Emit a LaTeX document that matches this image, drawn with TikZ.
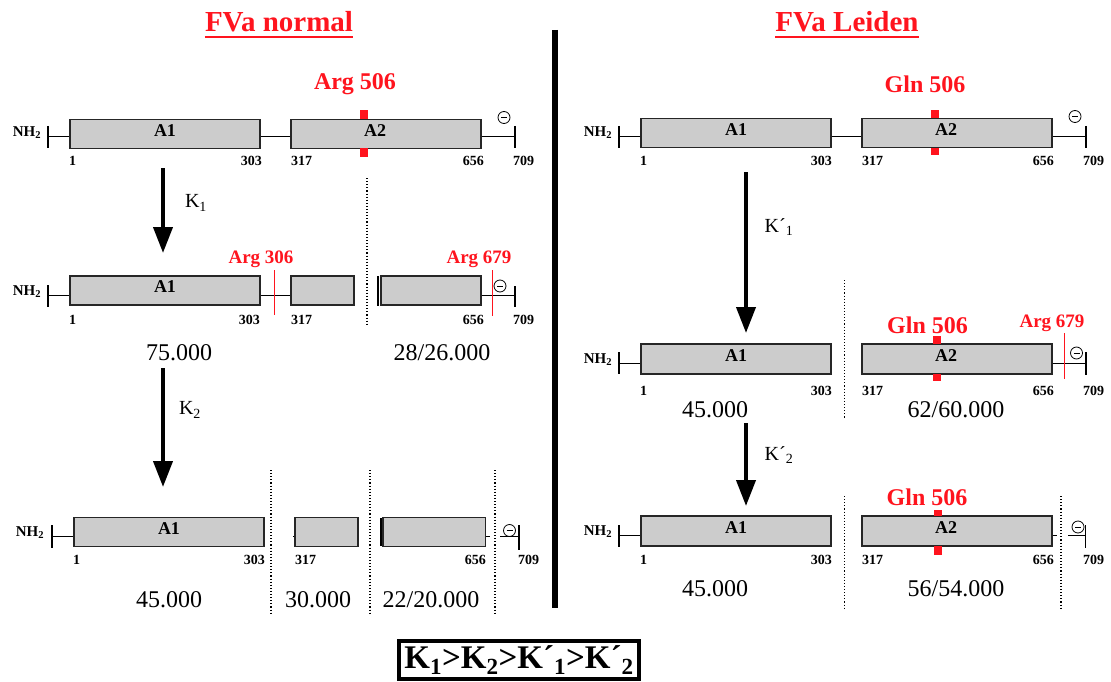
\documentclass[tikz,border=0pt]{standalone}
\usepackage{fontspec}
\setmainfont{Liberation Serif}
\usetikzlibrary{arrows.meta}
\definecolor{fred}{RGB}{255,20,30}
\begin{document}
\begin{tikzpicture}[x=1pt,y=-1pt,
  dom/.style={draw=black!85,fill=black!20,line width=1.3pt,minimum height=29pt,inner sep=0pt},
  chain/.style={line width=1pt},
  tick/.style={line width=1.2pt},
  num/.style={font=\bfseries\fontsize{14}{14}\selectfont,inner sep=0pt},
  dlbl/.style={font=\bfseries\fontsize{18}{18}\selectfont,inner sep=0pt},
  nh/.style={font=\bfseries\fontsize{15}{15}\selectfont,inner sep=0pt},
  mass/.style={font=\fontsize{24}{24}\selectfont,inner sep=0pt},
  site/.style={text=fred,font=\bfseries\fontsize{24}{24}\selectfont,inner sep=0pt},
  cut/.style={text=fred,font=\bfseries\fontsize{19}{19}\selectfont,inner sep=0pt},
  cutline/.style={draw=fred,line width=1pt},
  resbar/.style={fill=fred},
  neg/.style={circle,draw,line width=0.8pt,minimum size=12pt,inner sep=0pt,
    path picture={\draw[line width=0.8pt]
      ([xshift=-3pt]path picture bounding box.center) --
      ([xshift=3pt]path picture bounding box.center);}},
  sep/.style={dotted,line width=1.1pt},
  rate/.style={line width=4pt,-{Triangle[length=26pt,width=19pt]}},
  klbl/.style={font=\fontsize{20}{20}\selectfont,inner sep=0pt},
  title/.style={text=fred,font=\bfseries\fontsize{29}{29}\selectfont,inner sep=0pt},
]
\useasboundingbox (0,0) rectangle (1111,682);

% ---------- titles and divider ----------
\node[title] (tN) at (279,22) {FVa normal};
\draw[fred,line width=2pt] (tN.west |- 0,37) -- (tN.east |- 0,37);
\node[title] (tL) at (847,22) {FVa Leiden};
\draw[fred,line width=2pt] (tL.west |- 0,37) -- (tL.east |- 0,37);
\draw[line width=6pt] (555,30) -- (555,608);

% ================= FVa normal =================
% row 1: intact cofactor
\node[nh] (L1nh) at (27,133) {NH\textsubscript{2}};
\node[dom,minimum width=190pt,minimum height=29.5pt] (L1a1) at (165,134) {};
\node[dom,minimum width=190pt,minimum height=29.5pt] (L1a2) at (386,134) {};
\node[dlbl] (L1t1) at (165,131) {A1};
\node[dlbl] (L1t2) at (375,131) {A2};
\coordinate (L1s) at (48,137);
\coordinate (L1e) at (515,137);
\draw[tick] (48,126) -- (48,148);
\draw[tick] (515,126) -- (515,148);
\draw[chain] (L1s) -- (L1s -| L1a1.west);
\draw[chain] (L1s -| L1a1.east) -- (L1s -| L1a2.west);
\draw[chain] (L1s -| L1a2.east) -- (L1e);
\fill[resbar] (360,110) rectangle (368,119);
\fill[resbar] (360,148.5) rectangle (368,157);
\node[site] (L1site) at (355,84) {Arg 506};
\node[neg] (L1neg) at (504,117.5) {};
\node[num] (L1n1) at (72.5,161) {1};
\node[num,anchor=east] (L1n2) at (262,161) {303};
\node[num,anchor=west] (L1n3) at (291,161) {317};
\node[num,anchor=east] (L1n4) at (484,161) {656};
\node[num,anchor=west] (L1n5) at (513,161) {709};

% K1 step
\coordinate (k1a) at (163,168);
\coordinate (k1b) at (163,253);
\draw[rate] (k1a) -- (k1b);
\node[klbl] (k1) at (196,203) {K\textsubscript{1}};

% row 2: after cleavage at Arg 306 and Arg 679
\node[nh] (L2nh) at (27,292) {NH\textsubscript{2}};
\node[dom,minimum width=190pt] (L2a1) at (165,290.5) {};
\node[dom,minimum width=63pt] (L2b) at (322.5,290.5) {};
\node[dom,minimum width=100pt] (L2c) at (431,290.5) {};
\node[dlbl] (L2t1) at (165,287) {A1};
\coordinate (L2s) at (48,295);
\coordinate (L2e) at (515,295);
\draw[tick] (48,285) -- (48,307);
\draw[tick] (515,286) -- (515,307);
\draw[tick] (378,276) -- (378,306);
\draw[chain] (L2s) -- (L2s -| L2a1.west);
\draw[chain] (L2s -| L2a1.east) -- (L2s -| L2b.west);
\draw[chain] (L2s -| L2c.east) -- (L2e);
\draw[cutline] (274,270) -- (274,315);
\node[cut] (L2cut1) at (261,259) {Arg 306};
\draw[cutline] (492,270) -- (492,316);
\node[cut] (L2cut2) at (479,259) {Arg 679};
\node[neg] (L2neg) at (500,286) {};
\draw[sep] (367,178) -- (367,325);
\node[num] (L2n1) at (72.5,320) {1};
\node[num,anchor=east] (L2n2) at (260,320) {303};
\node[num,anchor=west] (L2n3) at (291,320) {317};
\node[num,anchor=east] (L2n4) at (484,320) {656};
\node[num,anchor=west] (L2n5) at (513,320) {709};
\node[mass] (L2m1) at (179,353) {75.000};
\node[mass] (L2m2) at (442,353) {28/26.000};

% K2 step
\coordinate (k2a) at (163,368);
\coordinate (k2b) at (163,487);
\draw[rate] (k2a) -- (k2b);
\node[klbl] (k2) at (190,410) {K\textsubscript{2}};

% row 3: fully cleaved
\node[nh] (L3nh) at (30,533) {NH\textsubscript{2}};
\node[dom,minimum width=190pt,minimum height=28.5pt] (L3a1) at (169,532) {};
\node[dom,minimum width=63pt,minimum height=28.5pt] (L3b) at (326.5,532) {};
\node[dom,minimum width=102.5pt,minimum height=28.5pt] (L3c) at (434.25,532) {};
\node[dlbl] (L3t1) at (169,529) {A1};
\coordinate (L3s) at (52,536);
\coordinate (L3e) at (519,536);
\draw[tick] (52,525) -- (52,548);
\draw[tick] (519,525) -- (519,550);
\draw[tick] (381,518) -- (381,546);
\draw[chain] (L3s) -- (L3s -| L3a1.west);
\draw[chain] (293,536) -- (L3s -| L3b.west);
\draw[chain] (L3s -| L3c.east) -- (490,536);
\draw[chain] (500,536) -- (L3e);
\node[neg] (L3neg) at (509.5,530.5) {};
\draw[sep] (271,470) -- (271,613);
\draw[sep] (370,470) -- (370,613);
\draw[sep] (495,470) -- (495,613);
\node[num] (L3n1) at (76.5,560) {1};
\node[num,anchor=east] (L3n2) at (265,560) {303};
\node[num,anchor=west] (L3n3) at (295,560) {317};
\node[num,anchor=east] (L3n4) at (486,560) {656};
\node[num,anchor=west] (L3n5) at (518,560) {709};
\node[mass] (L3m1) at (169,600) {45.000};
\node[mass] (L3m2) at (318,600) {30.000};
\node[mass] (L3m3) at (431,600) {22/20.000};

% ================= FVa Leiden =================
% row 1: intact cofactor
\node[nh] (R1nh) at (598,133) {NH\textsubscript{2}};
\node[dom,minimum width=190pt,minimum height=29.5pt] (R1a1) at (736,133) {};
\node[dom,minimum width=190pt,minimum height=29.5pt] (R1a2) at (957,133) {};
\node[dlbl] (R1t1) at (736,130) {A1};
\node[dlbl] (R1t2) at (946,130) {A2};
\coordinate (R1s) at (619,137);
\coordinate (R1e) at (1086,137);
\draw[tick] (619,126) -- (619,148);
\draw[tick] (1086,126) -- (1086,148);
\draw[chain] (R1s) -- (R1s -| R1a1.west);
\draw[chain] (R1s -| R1a1.east) -- (R1s -| R1a2.west);
\draw[chain] (R1s -| R1a2.east) -- (R1e);
\fill[resbar] (931,110) rectangle (939,118);
\fill[resbar] (931,148) rectangle (939,155);
\node[site] (R1site) at (925,84) {Gln 506};
\node[neg] (R1neg) at (1075,116.5) {};
\node[num] (R1n1) at (643.5,161) {1};
\node[num,anchor=east] (R1n2) at (832,161) {303};
\node[num,anchor=west] (R1n3) at (862,161) {317};
\node[num,anchor=east] (R1n4) at (1054,161) {656};
\node[num,anchor=west] (R1n5) at (1083,161) {709};

% K'1 step
\coordinate (q1a) at (746,172);
\coordinate (q1b) at (746,333);
\draw[rate] (q1a) -- (q1b);
\node[klbl] (q1) at (779,227) {K\char"00B4\textsubscript{1}};

% row 2: cleaved at Arg 306 and Arg 679
\node[nh] (R2nh) at (598,360) {NH\textsubscript{2}};
\node[dom,minimum width=190pt,minimum height=30pt] (R2a1) at (736,359) {};
\node[dom,minimum width=190pt,minimum height=30pt] (R2a2) at (957,359) {};
\node[dlbl] (R2t1) at (736,356) {A1};
\node[dlbl] (R2t2) at (946,356) {A2};
\coordinate (R2s) at (619,363);
\coordinate (R2e) at (1086,363);
\draw[tick] (619,352) -- (619,374);
\draw[tick] (1086,352) -- (1086,375);
\draw[chain] (R2s) -- (R2s -| R2a1.west);
\draw[chain] (R2s -| R2a2.east) -- (R2e);
\fill[resbar] (933,336) rectangle (941,344);
\fill[resbar] (933,374) rectangle (941,381);
\node[site] (R2site) at (927.5,325) {Gln 506};
\draw[cutline] (1064.5,333) -- (1064.5,379);
\node[cut] (R2cut) at (1052,323) {Arg 679};
\node[neg] (R2neg) at (1076.5,353) {};
\draw[sep] (844.5,280) -- (844.5,419);
\node[num] (R2n1) at (643.5,391) {1};
\node[num,anchor=east] (R2n2) at (832,391) {303};
\node[num,anchor=west] (R2n3) at (862,391) {317};
\node[num,anchor=east] (R2n4) at (1054,391) {656};
\node[num,anchor=west] (R2n5) at (1083,391) {709};
\node[mass] (R2m1) at (715,410) {45.000};
\node[mass] (R2m2) at (956,410) {62/60.000};

% K'2 step
\coordinate (q2a) at (746,423);
\coordinate (q2b) at (746,506);
\draw[rate] (q2a) -- (q2b);
\node[klbl] (q2) at (779,455) {K\char"00B4\textsubscript{2}};

% row 3: fully cleaved
\node[nh] (R3nh) at (598,532) {NH\textsubscript{2}};
\node[dom,minimum width=190pt,minimum height=30pt] (R3a1) at (736,531) {};
\node[dom,minimum width=190pt,minimum height=30pt] (R3a2) at (957,531) {};
\node[dlbl] (R3t1) at (736,528) {A1};
\node[dlbl] (R3t2) at (946,528) {A2};
\coordinate (R3s) at (619,535);
\coordinate (R3e) at (1085.5,535);
\draw[tick] (619,525) -- (619,547);
\draw[tick] (1085.5,525) -- (1085.5,548);
\draw[chain] (R3s) -- (R3s -| R3a1.west);
\draw[chain] (R3s -| R3a2.east) -- (1057,535);
\draw[chain] (1068,535) -- (R3e);
\fill[resbar] (934,510) rectangle (942,516);
\fill[resbar] (934,546) rectangle (942,555);
\node[site] (R3site) at (927,497) {Gln 506};
\node[neg] (R3neg) at (1078,527) {};
\draw[sep] (844.5,496) -- (844.5,609);
\draw[sep] (1061,496) -- (1061,609);
\node[num] (R3n1) at (643.5,560) {1};
\node[num,anchor=east] (R3n2) at (832,560) {303};
\node[num,anchor=west] (R3n3) at (862,560) {317};
\node[num,anchor=east] (R3n4) at (1054,560) {656};
\node[num,anchor=west] (R3n5) at (1083,560) {709};
\node[mass] (R3m1) at (715,589) {45.000};
\node[mass] (R3m2) at (956,589) {56/54.000};

% ---------- rate order ----------
\node[draw,line width=4pt,minimum width=240pt,minimum height=38pt,inner sep=0pt,
  font=\bfseries\fontsize{33}{33}\selectfont] (order) at (519,660)
  {K\textsubscript{1}>K\textsubscript{2}>K\char"00B4\textsubscript{1}>K\char"00B4\textsubscript{2}};
\end{tikzpicture}
\end{document}
